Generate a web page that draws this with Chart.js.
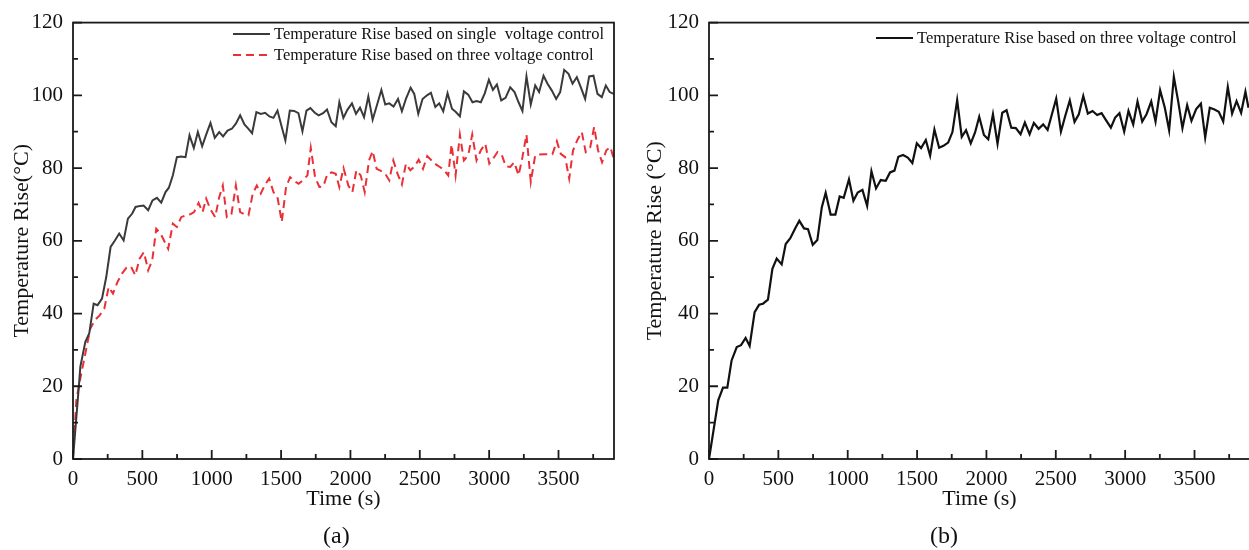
<!DOCTYPE html>
<html>
<head>
<meta charset="utf-8">
<script src="https://cdn.jsdelivr.net/npm/chart.js@4.4.1/dist/chart.umd.min.js"></script>
<style>
  html, body { margin: 0; padding: 0; background: #fff; overflow: hidden; }
  body { width: 1249px; height: 550px; position: relative; }
  canvas { position: absolute; top: 0; }
  #chartA { left: 0; }
  #chartB { left: 630px; }
  .sub { position: absolute; font-family: "Liberation Serif", serif; font-size: 24px; color: #111; }
</style>
</head>
<body>
<canvas id="chartA" width="630" height="550"></canvas>
<canvas id="chartB" width="640" height="550"></canvas>
<div class="sub" style="left:323px; top:522px;">(a)</div>
<div class="sub" style="left:930px; top:522px;">(b)</div>
<script>
// (a) single voltage control
var singleTime = [0, 42, 53, 89, 117, 149, 177, 209, 240, 271,
    302, 333, 365, 396, 427, 451, 485, 509, 542, 573,
    605, 636, 667, 691, 720, 749, 780, 811, 840, 871,
    900, 931, 960, 991, 1022, 1054, 1082, 1114, 1145, 1174,
    1205, 1236, 1265, 1291, 1322, 1354, 1385, 1416, 1445, 1474,
    1502, 1531, 1563, 1594, 1625, 1654, 1683, 1711, 1743, 1771,
    1803, 1831, 1863, 1894, 1920, 1949, 1978, 2011, 2040, 2069,
    2098, 2129, 2160, 2194, 2223, 2251, 2280, 2311, 2343, 2371,
    2400, 2434, 2460, 2489, 2520, 2552, 2580, 2612, 2640, 2669,
    2700, 2732, 2760, 2789, 2818, 2849, 2880, 2909, 2940, 2969,
    2998, 3027, 3056, 3087, 3118, 3152, 3183, 3212, 3240, 3269,
    3300, 3332, 3360, 3392, 3421, 3452, 3483, 3512, 3541, 3572,
    3601, 3632, 3661, 3692, 3721, 3752, 3781, 3812, 3841, 3869,
    3898];
var singleTemp = [0, 19.9, 25.4, 32.2, 34.5, 42.7, 42.3, 44.1, 50.1, 58.3,
    60.1, 62.0, 60.1, 66.1, 67.5, 69.3, 69.6, 69.7, 68.4, 71.1,
    71.8, 70.5, 73.4, 74.6, 78.0, 83.0, 83.2, 83.0, 89.0, 85.5,
    89.9, 86.0, 89.2, 92.4, 88.3, 89.9, 88.7, 90.3, 90.8, 92.2,
    94.5, 92.0, 90.8, 89.6, 95.4, 94.9, 95.2, 94.2, 93.8, 95.8,
    91.7, 87.6, 95.8, 95.7, 95.1, 90.1, 95.8, 96.5, 95.2, 94.5,
    95.1, 96.1, 92.6, 91.5, 98.1, 93.8, 96.0, 97.8, 94.9, 96.6,
    94.0, 99.7, 93.3, 97.7, 101.5, 97.5, 97.8, 96.9, 99.0, 95.6,
    99.0, 102.1, 100.4, 94.9, 99.0, 100.0, 100.7, 96.8, 97.8, 95.6,
    100.6, 96.3, 95.4, 94.2, 101.1, 100.2, 98.1, 98.4, 98.1, 100.6,
    104.3, 101.5, 103.0, 98.6, 99.3, 102.2, 100.9, 98.1, 95.7, 105.2,
    97.5, 102.7, 100.9, 105.4, 103.2, 101.3, 99.0, 100.9, 107.0, 105.9,
    103.2, 105.0, 102.2, 99.0, 105.2, 105.4, 100.4, 99.5, 102.7, 100.9,
    100.4];

// (a) three voltage control
var threeTime = [0, 24, 53, 89, 125, 158, 192, 226, 257, 288,
    321, 353, 386, 417, 449, 480, 511, 542, 571, 600,
    631, 686, 720, 749, 780, 814, 845, 873, 905, 934,
    960, 989, 1025, 1054, 1080, 1109, 1142, 1174, 1205, 1234,
    1265, 1296, 1325, 1354, 1385, 1414, 1445, 1474, 1505, 1536,
    1565, 1596, 1627, 1656, 1690, 1714, 1745, 1776, 1805, 1834,
    1865, 1894, 1920, 1950, 1985, 2014, 2043, 2074, 2103, 2134,
    2160, 2189, 2220, 2251, 2280, 2309, 2340, 2371, 2400, 2432,
    2463, 2492, 2523, 2554, 2585, 2616, 2645, 2676, 2705, 2729,
    2758, 2789, 2818, 2849, 2878, 2909, 2940, 2972, 3001, 3029,
    3060, 3092, 3120, 3152, 3181, 3212, 3240, 3269, 3300, 3332,
    3363, 3394, 3425, 3456, 3488, 3516, 3548, 3577, 3605, 3637,
    3668, 3696, 3728, 3757, 3785, 3814, 3845, 3874, 3898];
var threeTemp = [0, 16.2, 22.2, 29.0, 35.9, 38.2, 39.5, 41.4, 47.3, 45.5,
    48.7, 51.0, 52.6, 53.0, 50.5, 55.1, 56.9, 51.9, 54.6, 63.3,
    62.0, 57.8, 64.7, 63.8, 66.5, 67.0, 67.3, 67.9, 70.4, 67.9,
    71.6, 68.8, 66.5, 72.0, 75.2, 66.5, 67.3, 75.2, 67.9, 67.3,
    67.0, 73.0, 75.2, 73.0, 75.5, 77.1, 73.4, 72.0, 65.2, 74.8,
    77.5, 76.4, 75.7, 76.6, 78.0, 85.6, 77.5, 74.8, 75.0, 78.4,
    78.8, 78.4, 74.8, 80.0, 75.2, 73.4, 79.4, 78.0, 73.4, 82.1,
    84.7, 79.8, 79.2, 78.4, 76.6, 82.1, 78.4, 75.5, 81.2, 79.4,
    80.5, 82.3, 79.8, 83.3, 82.1, 81.0, 80.3, 79.4, 78.0, 86.5,
    78.0, 89.2, 82.1, 83.5, 89.2, 82.1, 84.9, 86.7, 81.2, 82.6,
    84.4, 83.5, 80.5, 80.3, 81.6, 78.0, 83.0, 89.2, 76.2, 83.5,
    83.7, 83.8, 83.8, 83.8, 87.4, 83.9, 83.0, 77.1, 84.9, 87.8,
    89.9, 84.4, 85.6, 91.3, 84.9, 81.6, 84.9, 85.8, 82.6];

// (b) three voltage control
var bTime = [0, 67, 101, 132, 163, 200, 231, 264, 293, 329,
    361, 389, 425, 457, 488, 524, 553, 586, 620, 651,
    685, 714, 748, 781, 813, 841, 877, 911, 942, 971,
    1009, 1041, 1072, 1106, 1140, 1171, 1204, 1238, 1274, 1305,
    1337, 1365, 1399, 1433, 1466, 1498, 1529, 1563, 1594, 1625,
    1659, 1690, 1724, 1755, 1789, 1822, 1853, 1887, 1918, 1948,
    1982, 2013, 2047, 2080, 2114, 2145, 2179, 2212, 2246, 2277,
    2311, 2342, 2376, 2409, 2441, 2472, 2503, 2537, 2568, 2601,
    2635, 2666, 2698, 2731, 2765, 2798, 2830, 2863, 2897, 2928,
    2959, 2993, 3024, 3058, 3089, 3123, 3154, 3188, 3219, 3252,
    3286, 3317, 3351, 3382, 3413, 3447, 3478, 3512, 3546, 3577,
    3610, 3644, 3675, 3707, 3740, 3771, 3803, 3836, 3867, 3889];
var bTemp = [0, 16.2, 19.6, 19.6, 27.1, 30.8, 31.3, 33.3, 31.1, 40.4,
    42.4, 42.7, 43.8, 52.3, 55.1, 53.5, 59.1, 60.7, 63.3, 65.5,
    63.4, 63.2, 58.9, 60.2, 69.2, 73.2, 67.2, 67.2, 72.2, 71.8,
    76.9, 71.0, 73.3, 74.0, 69.6, 79.1, 74.4, 76.7, 76.5, 78.8,
    79.3, 83.1, 83.6, 82.9, 81.4, 86.8, 85.5, 87.7, 83.4, 90.6,
    85.6, 86.1, 87.0, 89.9, 98.7, 88.6, 90.4, 86.8, 89.8, 94.1,
    89.1, 87.9, 94.8, 86.7, 95.2, 95.9, 91.1, 91.0, 89.3, 92.5,
    89.3, 92.4, 90.8, 92.0, 90.5, 94.8, 99.1, 90.0, 94.3, 98.6,
    92.7, 94.8, 99.8, 95.0, 95.7, 94.6, 95.1, 93.1, 91.1, 93.9,
    95.1, 90.0, 95.7, 92.0, 98.3, 92.8, 94.8, 98.3, 92.8, 101.4,
    96.6, 90.4, 105.1, 98.4, 91.0, 97.3, 93.0, 96.2, 97.7, 88.4,
    96.6, 96.1, 95.5, 92.8, 102.3, 95.0, 98.4, 95.2, 101.0, 96.6];

var xTicks = [0, 500, 1000, 1500, 2000, 2500, 3000, 3500];
var xTickLabels = ['0', '500', '1000', '1500', '2000', '2500', '3000', '3500'];
var yTicks = [0, 20, 40, 60, 80, 100, 120];
var yTickLabels = ['0', '20', '40', '60', '80', '100', '120'];

var serif = '"Liberation Serif", "Times New Roman", serif';

function toPoints(xs, ys) {
    return xs.map(function(x, i) { return {x: x, y: ys[i]}; });
}

// box round the plot area + inward ticks
var frameTicks = {
    id: 'frameTicks',
    afterDraw: function(chart) {
        var ctx = chart.ctx;
        var a = chart.chartArea;
        var xs = chart.scales.x, ys = chart.scales.y;
        ctx.save();
        ctx.strokeStyle = '#1a1a1a';
        ctx.lineWidth = 1.8;
        ctx.strokeRect(a.left, a.top, a.right - a.left, a.bottom - a.top);
        ctx.beginPath();
        for (var v = 0; v <= xs.max; v += 250) {
            var px = xs.getPixelForValue(v);
            ctx.moveTo(px, a.bottom);
            ctx.lineTo(px, a.bottom - (v % 500 === 0 ? 9 : 5));
        }
        for (var w = 0; w <= ys.max; w += 10) {
            var py = ys.getPixelForValue(w);
            ctx.moveTo(a.left, py);
            ctx.lineTo(a.left + (w % 20 === 0 ? 9 : 5), py);
        }
        ctx.stroke();
        ctx.restore();
    }
};

// legend drawn inside the plot: line sample then label
var lineLegend = {
    id: 'lineLegend',
    afterDraw: function(chart, args, opts) {
        var ctx = chart.ctx;
        ctx.save();
        ctx.font = '16.5px ' + serif;
        ctx.textBaseline = 'middle';
        chart.data.datasets.forEach(function(ds, i) {
            var y = opts.y + i * opts.gap;
            ctx.strokeStyle = ds.borderColor;
            ctx.lineWidth = ds.borderWidth;
            ctx.setLineDash(ds.borderDash || []);
            ctx.beginPath();
            ctx.moveTo(opts.x, y);
            ctx.lineTo(opts.x + 37, y);
            ctx.stroke();
            ctx.setLineDash([]);
            ctx.fillStyle = '#111';
            ctx.fillText(ds.label, opts.x + 41, y + 1);
        });
        ctx.restore();
    }
};

function makeOptions(cfg) {
    return {
        responsive: false,
        animation: false,
        devicePixelRatio: 1,
        layout: { padding: { top: 22, right: cfg.rightPad, left: 0, bottom: 0 } },
        elements: { point: { radius: 0 }, line: { tension: 0 } },
        plugins: {
            legend: { display: false },
            tooltip: { enabled: false },
            lineLegend: cfg.legend
        },
        scales: {
            x: {
                type: 'linear',
                min: 0,
                max: 3900,
                afterFit: function(s) { s.height = 91; },
                afterBuildTicks: function(s) {
                    s.ticks = xTicks.map(function(v) { return {value: v}; });
                },
                grid: { display: false, drawTicks: false },
                border: { display: false },
                ticks: {
                    padding: 8,
                    maxRotation: 0,
                    color: '#111',
                    font: { family: serif, size: 21 },
                    callback: function(v, i) { return xTickLabels[i]; }
                },
                title: {
                    display: true,
                    text: 'Time (s)',
                    color: '#111',
                    font: { family: serif, size: 22 },
                    padding: { top: 0, bottom: 38 }
                }
            },
            y: {
                min: 0,
                max: 120,
                afterFit: function(s) { s.width = cfg.yWidth; },
                afterBuildTicks: function(s) {
                    s.ticks = yTicks.map(function(v) { return {value: v}; });
                },
                grid: { display: false, drawTicks: false },
                border: { display: false },
                ticks: {
                    padding: 10,
                    color: '#111',
                    font: { family: serif, size: 21 },
                    callback: function(v, i) { return yTickLabels[i]; }
                },
                title: {
                    display: true,
                    text: cfg.yTitle,
                    color: '#111',
                    font: { family: serif, size: 22 },
                    padding: { top: cfg.yTitlePad, bottom: 0 }
                }
            }
        }
    };
}

document.addEventListener("DOMContentLoaded", function() {
    var ctxA = document.getElementById('chartA').getContext('2d');
    new Chart(ctxA, {
        type: 'line',
        data: {
            datasets: [{
                label: 'Temperature Rise based on single  voltage control',
                data: toPoints(singleTime, singleTemp),
                borderColor: '#3a3a3a',
                borderWidth: 2,
                fill: false
            }, {
                label: 'Temperature Rise based on three voltage control',
                data: toPoints(threeTime, threeTemp),
                borderColor: '#ea2f37',
                borderWidth: 2,
                borderDash: [8, 5],
                fill: false
            }]
        },
        options: makeOptions({
            yWidth: 73, rightPad: 16, yTitle: 'Temperature Rise(°C)', yTitlePad: 9,
            legend: { x: 233, y: 34, gap: 21 }
        }),
        plugins: [frameTicks, lineLegend]
    });

    var ctxB = document.getElementById('chartB').getContext('2d');
    new Chart(ctxB, {
        type: 'line',
        data: {
            datasets: [{
                label: 'Temperature Rise based on three voltage control',
                data: toPoints(bTime, bTemp),
                borderColor: '#111111',
                borderWidth: 2.2,
                fill: false
            }]
        },
        options: makeOptions({
            yWidth: 79, rightPad: 20, yTitle: 'Temperature Rise (°C)', yTitlePad: 12,
            legend: { x: 246, y: 38, gap: 21 }
        }),
        plugins: [frameTicks, lineLegend]
    });
});
</script>
</body>
</html>
